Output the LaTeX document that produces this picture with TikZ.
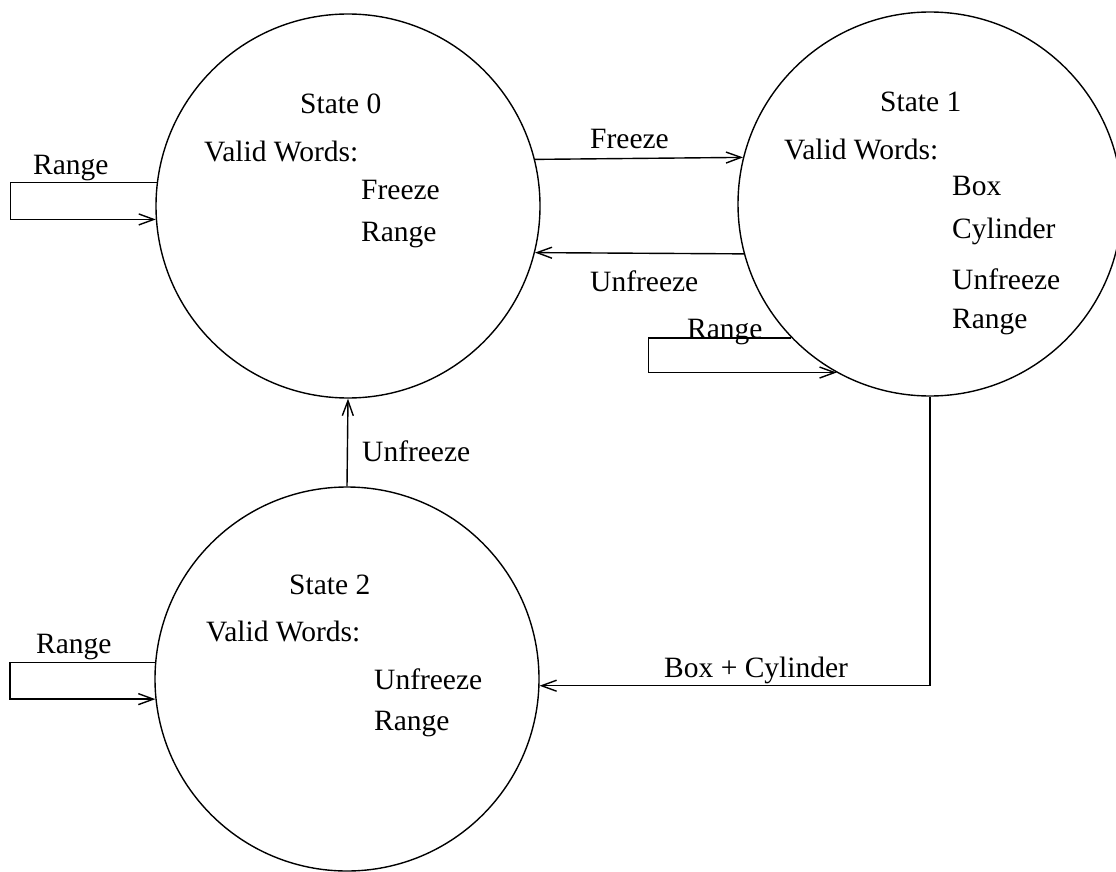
\documentclass[tikz,border=0pt]{standalone}
\usepackage{fontspec}
\setmainfont{Liberation Serif}
\usetikzlibrary{arrows.meta}
\begin{document}
\begin{tikzpicture}[x=1pt,y=-1pt,
  state/.style={circle,draw,line width=1.4pt,minimum size=384pt,inner sep=0pt},
  txt/.style={anchor=base west,inner sep=0pt,font=\fontsize{29.5}{35}\selectfont},
  arr/.style={line width=1.4pt,-{Straight Barb[length=15pt,width=11pt,line width=1.4pt]}},
  ln/.style={line width=1.4pt}]
\useasboundingbox (0,0) rectangle (1116,872);
% states
\node[state] (s0) at (348,206) {};
\node[state] (s1) at (930,204) {};
\node[state] (s2) at (347,679) {};
% state 0 texts
\node[txt] (t0) at (300,114) {State 0};
\node[txt] (v0) at (204,161) {Valid Words:};
\node[txt] (w0a) at (361,199) {Freeze};
\node[txt] (w0b) at (361,241) {Range};
% state 1 texts
\node[txt] (t1) at (880,112) {State 1};
\node[txt] (v1) at (784,159) {Valid Words:};
\node[txt] (w1a) at (952,195) {Box};
\node[txt] (w1b) at (952,238) {Cylinder};
\node[txt] (w1c) at (952,289) {Unfreeze};
\node[txt] (w1d) at (952,328) {Range};
% state 2 texts
\node[txt] (t2) at (289,594) {State 2};
\node[txt] (v2) at (206,641) {Valid Words:};
\node[txt] (w2a) at (374,689) {Unfreeze};
\node[txt] (w2b) at (374,730) {Range};
% connectors
\draw[arr] (s0.14.5) -- (s1.166.1);
\draw[arr] (s1.195.1) -- (s0.-14.5);
\draw[arr] (s0.173.4) -- ++(-146,0) |- (s0.184.2);
\draw[arr] (s1.224.3) -- ++(-142.6,0) |- (s1.241.7);
\draw[arr] (s2.175.5) -- ++(-145,0) |- (s2.186);
\draw[arr] (s2.north) -- (s0.south);
\draw[arr] (s1.south) |- (s2.-2.1);
% connector labels
\node[txt] (lf) at (590,149) {Freeze};
\node[txt] (lu) at (590,291) {Unfreeze};
\node[txt] (lr0) at (33,174) {Range};
\node[txt] (lr1) at (687,338) {Range};
\node[txt] (lr2) at (36,653) {Range};
\node[txt] (lu2) at (362,461) {Unfreeze};
\node[txt] (lbc) at (664,677) {Box + Cylinder};
\end{tikzpicture}
\end{document}
